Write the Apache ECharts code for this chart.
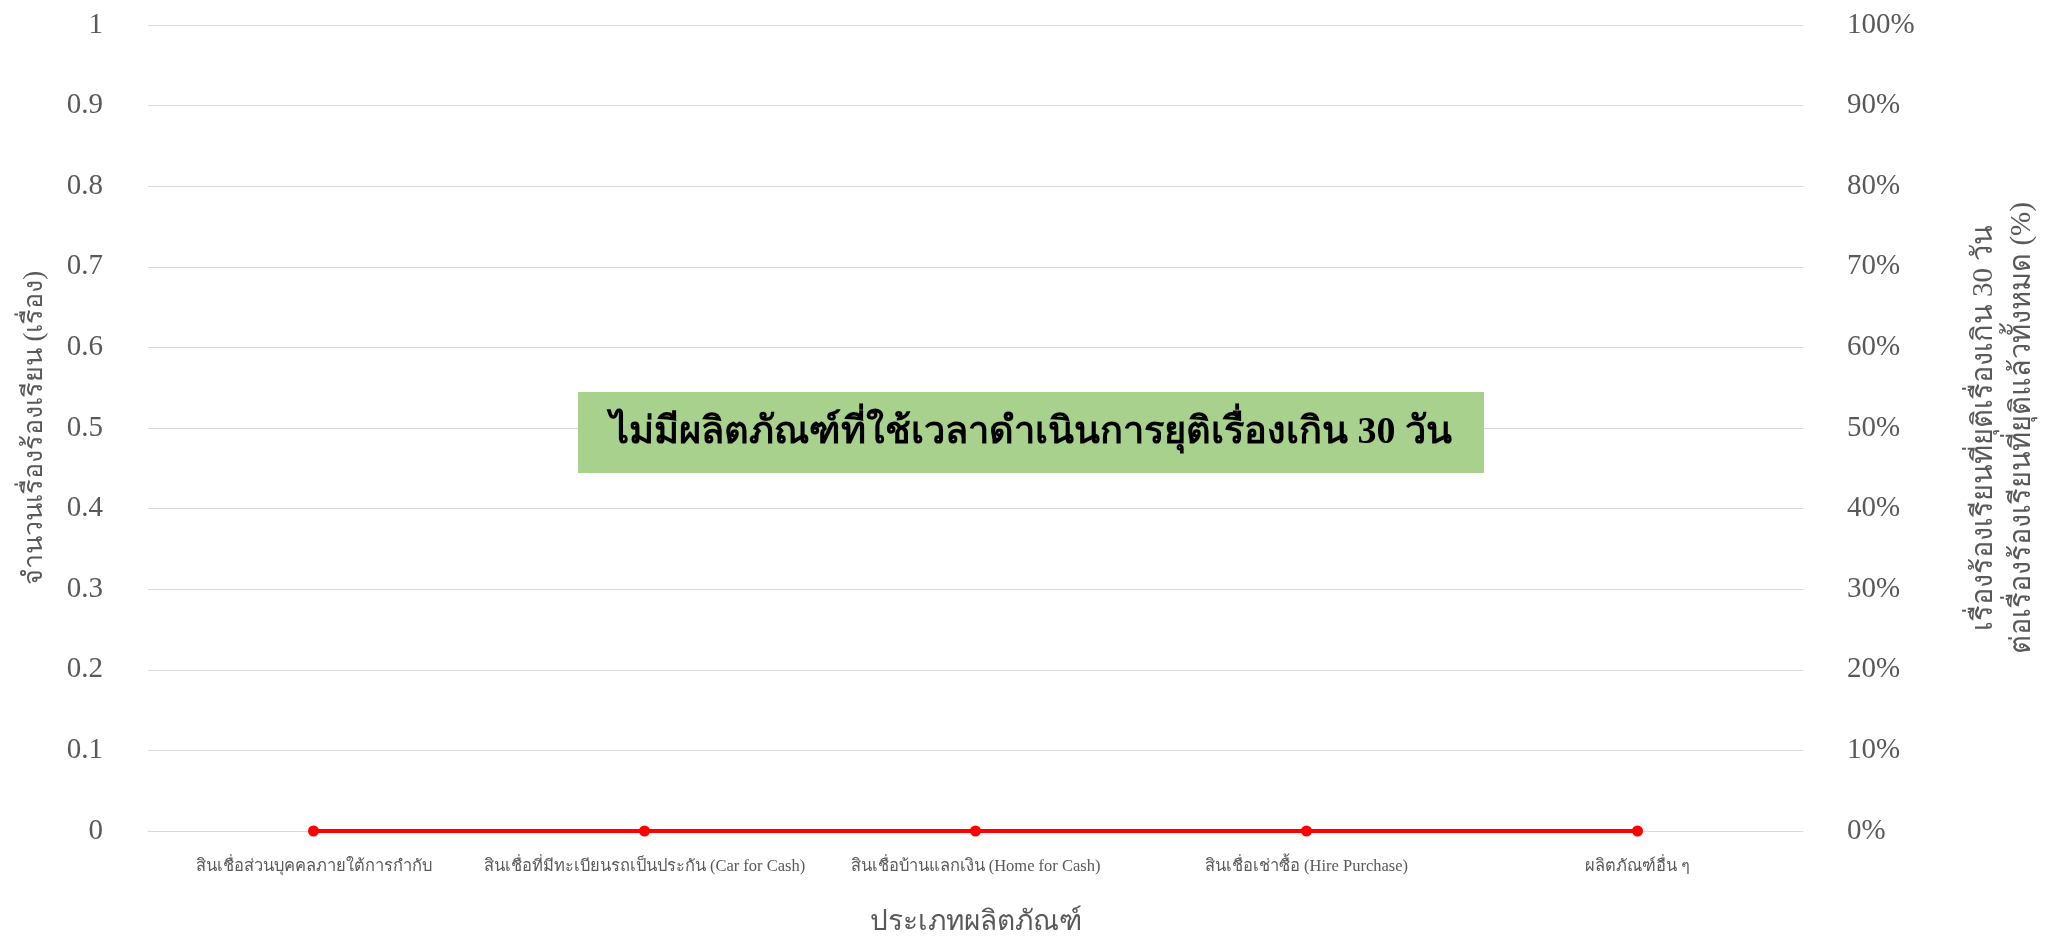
<!DOCTYPE html>
<html>
<head>
<meta charset="utf-8">
<script src="https://cdn.jsdelivr.net/npm/echarts@6/dist/echarts.min.js"></script>
<style>
html,body{margin:0;padding:0;background:#fff;}
#chart{width:2049px;height:942px;}
</style>
</head>
<body>
<div id="chart"></div>
<script>
const categories = [
  'สินเชื่อส่วนบุคคลภายใต้การกำกับ',
  'สินเชื่อที่มีทะเบียนรถเป็นประกัน (Car for Cash)',
  'สินเชื่อบ้านแลกเงิน (Home for Cash)',
  'สินเชื่อเช่าซื้อ (Hire Purchase)',
  'ผลิตภัณฑ์อื่น ๆ'
];
const complaintCounts = [0, 0, 0, 0, 0];
const percentOver30 = [0, 0, 0, 0, 0];
const leftTicks = { min: 0, max: 1, interval: 0.1 };
const rightTicks = { min: 0, max: 1, interval: 0.1 };
const noteText = 'ไม่มีผลิตภัณฑ์ที่ใช้เวลาดำเนินการยุติเรื่องเกิน 30 วัน';

const FONT = "'Liberation Serif', 'Times New Roman', serif";
const chart = echarts.init(document.getElementById('chart'));
chart.setOption({
  animation: false,
  backgroundColor: '#ffffff',
  grid: { left: 148, right: 226, top: 25, bottom: 101 },
  xAxis: {
    type: 'category',
    data: categories,
    boundaryGap: true,
    name: 'ประเภทผลิตภัณฑ์',
    nameLocation: 'middle',
    nameGap: 78,
    nameTextStyle: { fontFamily: FONT, fontSize: 28, color: '#595959' },
    axisLine: { show: true, lineStyle: { color: '#d9d9d9', width: 1 } },
    axisTick: { show: false },
    axisLabel: { fontFamily: FONT, fontSize: 16.5, color: '#595959', margin: 27, interval: 0 }
  },
  yAxis: [
    {
      type: 'value',
      min: leftTicks.min, max: leftTicks.max, interval: leftTicks.interval,
      name: 'จำนวนเรื่องร้องเรียน (เรื่อง)',
      nameLocation: 'middle',
      nameRotate: 90,
      nameGap: 100,
      nameTextStyle: { fontFamily: FONT, fontSize: 27, color: '#595959' },
      axisLine: { show: false },
      axisTick: { show: false },
      splitLine: { show: true, lineStyle: { color: '#d9d9d9', width: 1 } },
      axisLabel: { fontFamily: FONT, fontSize: 29, color: '#595959', margin: 45,
        formatter: v => String(Math.round(v * 10) / 10) }
    },
    {
      type: 'value',
      position: 'right',
      min: rightTicks.min, max: rightTicks.max, interval: rightTicks.interval,
      name: 'เรื่องร้องเรียนที่ยุติเรื่องเกิน 30 วัน\nต่อเรื่องร้องเรียนที่ยุติแล้วทั้งหมด (%)',
      nameLocation: 'middle',
      nameRotate: 90,
      nameGap: 162,
      nameTextStyle: { fontFamily: FONT, fontSize: 29, color: '#595959', lineHeight: 38, align: 'center' },
      axisLine: { show: false },
      axisTick: { show: false },
      splitLine: { show: false },
      axisLabel: { fontFamily: FONT, fontSize: 29, color: '#595959', margin: 44,
        formatter: v => Math.round(v * 100) + '%' }
    }
  ],
  series: [
    {
      name: 'จำนวนเรื่องร้องเรียน',
      type: 'bar',
      yAxisIndex: 0,
      data: complaintCounts,
      itemStyle: { color: '#4472C4' }
    },
    {
      name: 'ร้อยละ',
      type: 'line',
      yAxisIndex: 1,
      data: percentOver30,
      symbol: 'circle',
      symbolSize: 11,
      lineStyle: { color: '#ff0000', width: 4 },
      itemStyle: { color: '#ff0000' }
    }
  ],
  graphic: [
    {
      type: 'rect',
      shape: { x: 578, y: 392, width: 906, height: 81 },
      style: { fill: '#a9d18e' },
      z: 100
    },
    {
      type: 'text',
      x: 1031, y: 433,
      style: {
        text: noteText,
        fontFamily: FONT, fontSize: 38, fontWeight: 'bold', fill: '#000000',
        textAlign: 'center', textVerticalAlign: 'middle'
      },
      z: 101
    }
  ]
});
</script>
</body>
</html>
